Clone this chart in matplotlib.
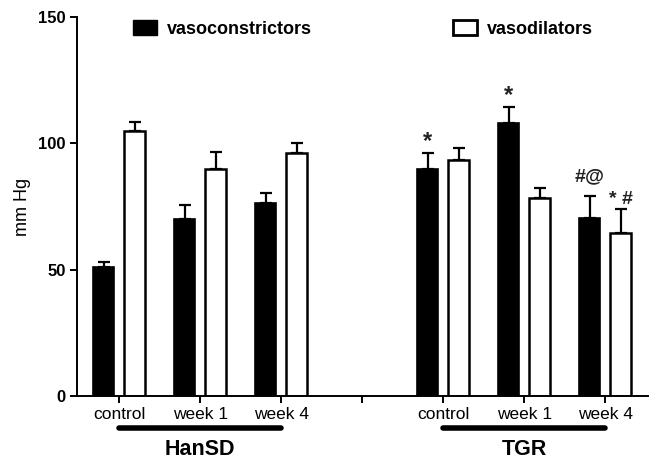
import numpy as np
import matplotlib
matplotlib.use('Agg')
import matplotlib.pyplot as plt
import matplotlib.transforms as mtransforms
from matplotlib.patches import Patch

plt.rcParams['font.family'] = ['Liberation Sans', 'DejaVu Sans']

# data (mm Hg), gap slot between the two strains
tick_labels = ['control', 'week 1', 'week 4', '', 'control', 'week 1', 'week 4']
constrictors = [51, 70, 76.5, np.nan, 90, 108, 70.5]
constrictors_err = [2, 5.5, 4, np.nan, 6, 6.5, 8.5]
dilators = [105, 90, 96, np.nan, 93.5, 78.5, 64.5]
dilators_err = [3.5, 6.5, 4, np.nan, 4.5, 4, 9.5]
groups = ['HanSD', 'TGR']
group_span = [(0, 2), (4, 6)]
# significance marks: (slot, 0=constrictor / 1=dilator, text)
marks = [(4, 0, '*'), (5, 0, '*'), (6, 0, '#@'), (6, 1, '* #')]
mark_gap = {'*': 0.0, '#@': 4.5, '* #': 0.6}

fig = plt.figure(figsize=(6.62, 4.72), dpi=100)
ax = fig.add_axes([0.1163, 0.161, 0.8627, 0.803])

x = np.arange(len(tick_labels))
off = 0.19
w = 0.26
ax.bar(x - off, constrictors, w, color='black', edgecolor='black', lw=1.2, zorder=2)
ax.bar(x + off, dilators, w, color='white', edgecolor='black', lw=1.8, zorder=2)
ax.errorbar(x - off, constrictors, yerr=[np.zeros(len(x)), constrictors_err],
            fmt='none', ecolor='black', elinewidth=1.6, capsize=4.5, capthick=1.6, zorder=1)
ax.errorbar(x + off, dilators, yerr=[np.zeros(len(x)), dilators_err],
            fmt='none', ecolor='black', elinewidth=1.6, capsize=4.5, capthick=1.6, zorder=1)

for i, s, txt in marks:
    vals, errs = (constrictors, constrictors_err) if s == 0 else (dilators, dilators_err)
    xp = x[i] - off if s == 0 else x[i] + off
    fs = 17 if txt == '*' else 14
    ax.text(xp, vals[i] + errs[i] + mark_gap[txt], txt, ha='center', va='bottom',
            fontsize=fs, fontweight='bold', color='#222222')

ax.set_xlim(-0.52, 6.53)
ax.set_ylim(0, 150)
ax.set_yticks([0, 50, 100, 150])
ax.set_xticks(x)
ax.set_xticklabels(tick_labels, fontsize=12.5)
for lab in ax.get_yticklabels():
    lab.set_fontsize(12)
    lab.set_fontweight('bold')
ax.text(-0.096, 0.5, 'mm Hg', rotation=90, ha='center', va='center',
        fontsize=13, transform=ax.transAxes)
ax.spines['top'].set_visible(False)
ax.spines['right'].set_visible(False)
ax.spines['left'].set_linewidth(1.4)
ax.spines['bottom'].set_linewidth(1.4)
ax.tick_params(width=1.4, length=5, direction='out', pad=3)

trans = mtransforms.blended_transform_factory(ax.transData, ax.transAxes)
for name, (a, b) in zip(groups, group_span):
    ax.plot([a, b], [-0.085, -0.085], color='black', lw=4, solid_capstyle='round',
            transform=trans, clip_on=False)
    ax.text((a + b) / 2, -0.142, name, ha='center', va='center', fontsize=15.5,
            fontweight='bold', transform=trans)

handles = [Patch(facecolor='black', edgecolor='black', label='vasoconstrictors'),
           Patch(facecolor='white', edgecolor='black', linewidth=2, label='vasodilators')]
ax.legend(handles=handles, ncol=2, frameon=False, loc='upper left',
          bbox_to_anchor=(0.098, 0.992), borderpad=0, borderaxespad=0,
          handlelength=1.35, handleheight=0.9, handletextpad=0.55, columnspacing=7.8,
          prop={'size': 13, 'weight': 'bold'})

fig.savefig('out.png', dpi=100)
